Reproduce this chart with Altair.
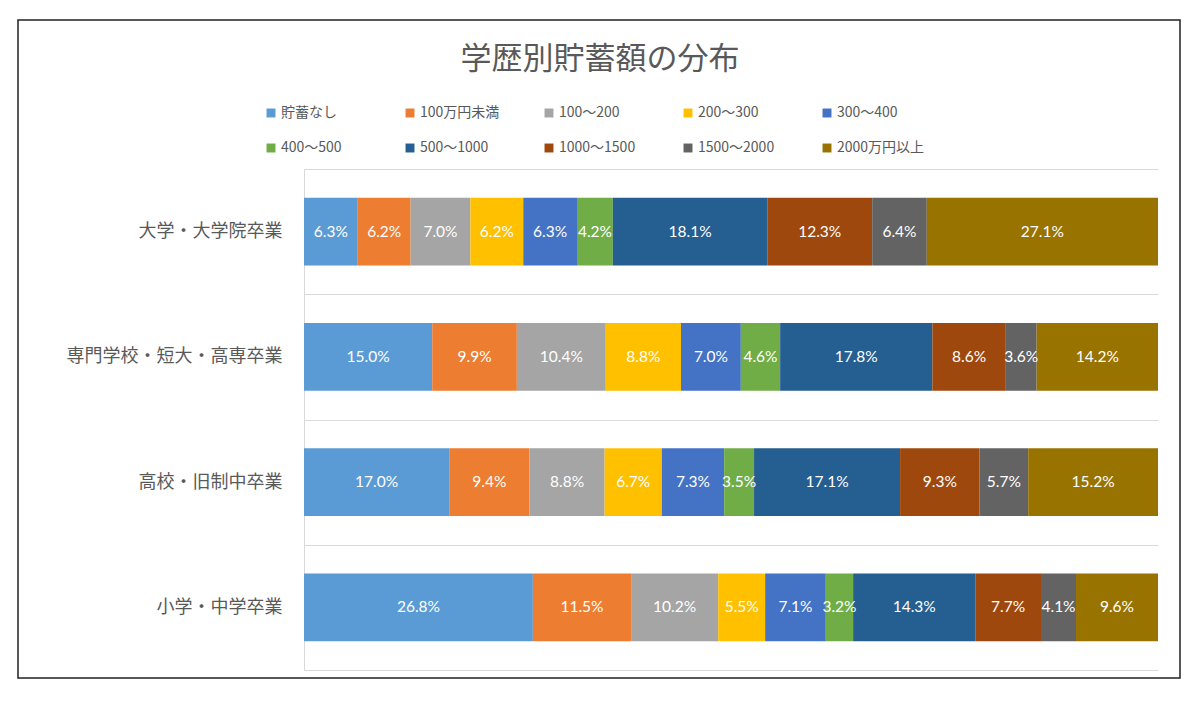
import altair as alt
import pandas as pd

categories = ["大学・大学院卒業", "専門学校・短大・高専卒業", "高校・旧制中卒業", "小学・中学卒業"]
series = ["貯蓄なし", "100万円未満", "100～200", "200～300", "300～400",
          "400～500", "500～1000", "1000～1500", "1500～2000", "2000万円以上"]
colors = ["#5B9BD5", "#ED7D31", "#A5A5A5", "#FFC000", "#4472C4",
          "#70AD47", "#255E91", "#9E480E", "#636363", "#997300"]

univ = [6.3, 6.2, 7.0, 6.2, 6.3, 4.2, 18.1, 12.3, 6.4, 27.1]
senmon = [15.0, 9.9, 10.4, 8.8, 7.0, 4.6, 17.8, 8.6, 3.6, 14.2]
koko = [17.0, 9.4, 8.8, 6.7, 7.3, 3.5, 17.1, 9.3, 5.7, 15.2]
shochu = [26.8, 11.5, 10.2, 5.5, 7.1, 3.2, 14.3, 7.7, 4.1, 9.6]

rows = []
for cat, vals in zip(categories, [univ, senmon, koko, shochu]):
    for i, (s, v) in enumerate(zip(series, vals)):
        rows.append({"edu": cat, "series": s, "order": i, "value": v, "label": f"{v:.1f}%"})
df = pd.DataFrame(rows)

base = alt.Chart(df).transform_stack(
    stack="value", groupby=["edu"], as_=["x0", "x1"], offset="normalize",
    sort=[alt.SortField("order", order="ascending")]
).transform_calculate(mid="(datum.x0 + datum.x1) / 2")

yenc = alt.Y(
    "edu:N", sort=categories,
    scale=alt.Scale(paddingInner=0, paddingOuter=0),
    axis=alt.Axis(
        title=None, ticks=False, tickBand="extent", grid=True,
        gridColor="#D9D9D9", domainColor="#D9D9D9",
        labelFont="Noto Sans CJK JP", labelFontSize=18, labelColor="#595959",
        labelPadding=22, labelLimit=400,
    ),
)

xscale = alt.Scale(domain=[0, 1], nice=False)

bars = base.mark_bar(height={"band": 0.54}).encode(
    x=alt.X("x0:Q", scale=xscale, axis=None),
    x2="x1:Q",
    y=yenc,
    color=alt.Color(
        "series:N", sort=series,
        scale=alt.Scale(domain=series, range=colors),
        legend=alt.Legend(
            title=None, orient="none", legendX=-40, legendY=-63,
            direction="horizontal", columns=5, gridAlign="all",
            columnPadding=34, rowPadding=21,
            symbolType="square", symbolSize=80, symbolStrokeWidth=0,
            labelFont="Noto Sans CJK JP", labelFontSize=14, labelColor="#595959",
            labelOffset=3, labelLimit=200,
        ),
    ),
    order=alt.Order("order:Q"),
)

text = base.mark_text(color="white", fontSize=15.5, font="Lato").encode(
    x=alt.X("mid:Q", scale=xscale, axis=None),
    y=alt.Y("edu:N", sort=categories),
    text="label:N",
)

border = alt.Chart(alt.Data(values=[{"a": 1}])).mark_rect(
    filled=False, stroke="#222222", strokeWidth=1.5
).encode(
    x=alt.value(-286), x2=alt.value(876), y=alt.value(-149), y2=alt.value(509)
)

chart = alt.layer(border, bars, text).properties(
    width=854, height=501,
    background="white",
    autosize=alt.AutoSizeParams(type="none"),
    padding={"left": 304, "top": 169, "right": 42, "bottom": 33},
    title=alt.Title(
        "学歴別貯蓄額の分布", font="Noto Sans CJK JP", fontSize=31,
        fontWeight="normal", color="#595959", anchor="middle", frame="group",
        dx=-131, offset=0, dy=57,
    ),
).configure_view(stroke=None)

chart.save("out.html", embed_options={"renderer": "svg", "actions": False})
